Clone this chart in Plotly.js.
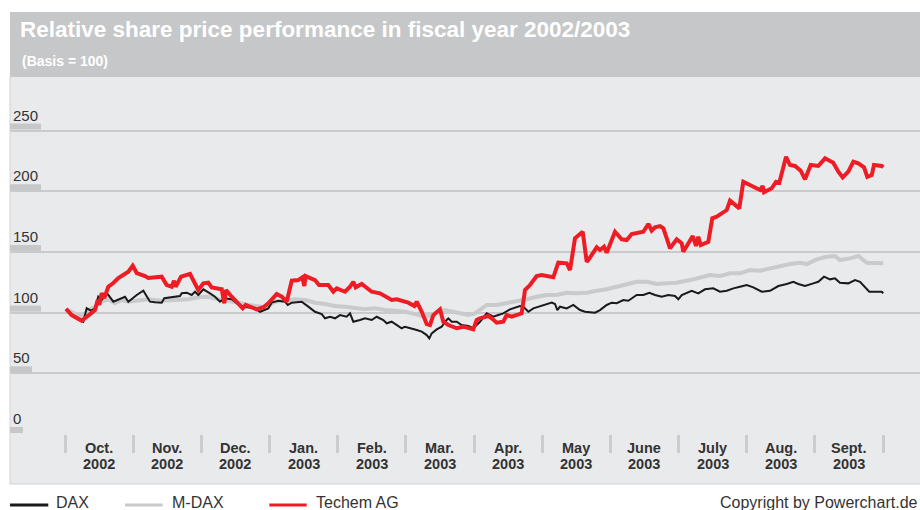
<!DOCTYPE html>
<html>
<head>
<meta charset="utf-8">
<script src="https://cdn.plot.ly/plotly-3.0.1.min.js"></script>
<style>
  html, body { margin: 0; padding: 0; background: #ffffff; }
  #chart { width: 920px; height: 510px; }
</style>
</head>
<body>
<div id="chart"></div>
<script>
// ---- Data (x in months since 1 Oct 2002, y = index, basis 100) ----
const monthLabels = ['Oct.', 'Nov.', 'Dec.', 'Jan.', 'Feb.', 'Mar.', 'Apr.', 'May', 'June', 'July', 'Aug.', 'Sept.'];
const yearLabels = ['2002', '2002', '2002', '2003', '2003', '2003', '2003', '2003', '2003', '2003', '2003', '2003'];
const yTickValues = [0, 50, 100, 150, 200, 250];
const seriesNames = ['DAX', 'M-DAX', 'Techem AG'];

const mdaxX = [0.015,0.147,0.245,0.342,0.440,0.538,0.635,0.733,0.832,0.929,1.075,1.222,1.418,1.614,1.809,1.955,2.102,2.249,2.395,2.542,2.689,2.836,2.934,3.081,3.227,3.374,3.521,3.667,3.814,3.961,4.107,4.254,4.401,4.547,4.694,4.841,4.988,5.134,5.281,5.379,5.476,5.574,5.672,5.819,5.916,6.014,6.088,6.186,6.332,6.479,6.626,6.772,6.919,7.066,7.213,7.360,7.506,7.653,7.800,7.946,8.093,8.240,8.386,8.533,8.680,8.827,8.973,9.168,9.315,9.461,9.608,9.755,9.902,10.048,10.195,10.342,10.488,10.635,10.782,10.880,11.027,11.173,11.295,11.368,11.515,11.637,11.760,11.882,12.003];
const mdaxY = [102.7,99.4,96.6,102.1,104.9,109.0,111.0,107.7,110.4,109.0,110.4,111.0,109.8,110.4,111.0,112.6,113.1,111.0,109.8,108.2,106.3,104.9,104.4,109.0,110.4,111.0,110.4,108.2,107.1,105.4,104.9,103.5,102.7,103.5,102.1,101.6,100.7,98.8,96.6,98.0,100.7,102.1,100.7,99.4,98.0,99.4,102.1,106.3,106.3,107.7,109.8,111.0,113.1,114.5,114.5,116.4,115.9,116.4,118.0,119.2,121.3,123.6,125.4,125.4,123.6,124.1,124.6,126.8,129.1,131.0,130.1,132.4,132.4,135.1,134.5,136.5,138.4,140.0,141.1,140.0,143.9,146.0,146.6,143.3,144.7,146.6,141.1,140.6,140.6];

const daxX = [0.015,0.098,0.172,0.268,0.318,0.381,0.440,0.488,0.538,0.612,0.635,0.709,0.782,0.880,0.929,1.052,1.149,1.247,1.320,1.418,1.457,1.589,1.687,1.712,1.785,1.859,1.907,1.955,2.029,2.127,2.200,2.274,2.347,2.445,2.519,2.616,2.787,2.860,2.934,2.982,3.032,3.129,3.227,3.267,3.326,3.472,3.569,3.667,3.766,3.814,3.887,3.961,4.034,4.132,4.181,4.229,4.327,4.401,4.499,4.572,4.669,4.719,4.792,4.866,4.939,4.988,5.086,5.159,5.233,5.306,5.344,5.379,5.453,5.526,5.574,5.623,5.672,5.746,5.819,5.916,5.989,6.088,6.186,6.283,6.356,6.429,6.527,6.674,6.723,6.796,6.870,6.943,7.041,7.140,7.188,7.222,7.261,7.360,7.456,7.555,7.628,7.775,7.848,7.946,8.020,8.093,8.190,8.263,8.386,8.483,8.571,8.655,8.753,8.850,8.948,8.997,9.047,9.120,9.193,9.290,9.388,9.510,9.608,9.707,9.804,9.902,10.000,10.097,10.220,10.342,10.464,10.587,10.684,10.757,10.855,10.977,11.050,11.134,11.222,11.295,11.368,11.490,11.589,11.662,11.735,11.798,11.907,11.980,12.003];
const daxY = [102.7,98.8,95.3,92.5,103.5,101.6,103.5,113.1,110.4,115.9,114.5,109.0,111.0,113.1,109.0,114.5,118.0,109.0,108.5,108.2,111.8,113.1,113.7,115.9,116.4,114.5,117.2,114.5,119.2,115.9,113.1,109.0,111.8,111.0,107.7,104.9,103.5,100.7,102.1,103.5,108.2,109.8,109.0,106.3,108.2,109.0,104.9,100.7,98.8,95.3,96.6,95.3,98.0,96.6,99.4,92.5,93.9,95.3,93.9,96.6,93.9,91.2,92.5,89.8,87.1,88.4,87.1,85.7,84.3,81.5,78.8,82.9,86.2,88.4,92.5,95.3,92.5,92.5,89.8,89.0,87.1,92.5,99.4,96.6,98.0,99.4,102.7,105.4,104.9,100.7,103.5,104.9,106.3,108.2,107.1,102.1,104.9,103.5,106.3,102.1,100.7,99.9,102.1,106.3,108.2,107.7,110.4,109.8,114.5,114.5,116.4,114.5,113.1,114.5,113.7,111.0,114.5,116.4,118.0,115.9,119.2,120.0,117.2,118.0,120.0,121.3,122.7,120.8,117.2,118.0,121.9,123.6,125.4,123.6,121.9,124.1,125.4,129.6,127.4,128.2,124.6,124.1,126.8,125.4,121.3,117.2,117.2,117.2,115.9];

const techemX = [0.015,0.098,0.245,0.342,0.440,0.480,0.503,0.538,0.576,0.635,0.709,0.782,0.855,0.929,0.993,1.052,1.174,1.222,1.418,1.492,1.565,1.599,1.624,1.702,1.834,1.897,1.955,2.029,2.102,2.152,2.299,2.337,2.362,2.445,2.519,2.607,2.651,2.812,2.909,2.982,3.105,3.179,3.252,3.326,3.422,3.481,3.510,3.531,3.667,3.726,3.862,3.936,3.986,4.107,4.181,4.229,4.264,4.352,4.499,4.621,4.792,4.866,5.036,5.124,5.159,5.233,5.306,5.354,5.403,5.501,5.549,5.623,5.746,5.843,5.989,6.039,6.088,6.209,6.259,6.332,6.429,6.479,6.553,6.699,6.748,6.821,6.919,6.993,7.163,7.236,7.360,7.408,7.481,7.594,7.653,7.677,7.800,7.848,7.907,7.946,8.068,8.117,8.166,8.240,8.313,8.483,8.557,8.606,8.655,8.728,8.777,8.827,8.875,8.973,9.047,9.070,9.143,9.208,9.256,9.290,9.325,9.437,9.495,9.560,9.707,9.755,9.891,9.950,10.195,10.234,10.254,10.367,10.430,10.478,10.577,10.635,10.709,10.792,10.855,10.939,11.050,11.149,11.270,11.344,11.408,11.490,11.564,11.637,11.721,11.769,11.834,11.867,11.980,12.003];
const techemY = [103.0,98.0,93.3,98.0,102.1,110.4,106.3,116.1,112.0,121.3,124.4,128.5,131.0,133.7,138.6,132.6,130.1,128.5,129.6,122.7,121.3,126.3,121.3,129.6,131.8,125.4,118.6,124.1,124.6,120.8,119.2,107.7,118.6,113.1,109.0,103.5,106.3,102.7,104.4,107.7,115.3,113.1,109.0,126.3,126.8,129.1,121.9,130.1,126.8,122.7,122.7,117.2,120.0,117.2,121.3,125.4,120.8,123.6,117.2,115.9,110.4,110.9,108.2,105.4,109.0,100.7,90.6,89.8,98.0,102.7,92.5,89.8,87.1,88.4,86.2,93.9,95.3,97.2,95.3,91.7,92.5,98.0,96.6,99.4,118.6,122.7,130.1,131.0,129.1,141.1,140.6,135.1,161.2,166.6,141.9,143.3,153.8,151.6,154.3,149.3,166.6,163.9,160.4,159.8,164.7,166.6,173.0,167.5,170.3,171.3,169.4,161.2,153.0,160.4,157.1,150.2,157.1,163.1,154.9,162.5,155.7,158.4,177.7,179.0,184.5,192.2,185.9,207.8,201.0,204.3,199.1,202.4,207.8,207.0,228.4,221.6,220.8,216.9,209.8,221.6,220.8,227.1,223.5,216.1,211.4,216.1,224.3,223.0,219.7,211.9,213.3,221.6,220.8,219.7];

// ---- Styling ----
const FONT = 'Liberation Sans, Arial, Helvetica, sans-serif';
const TEXT = '#333333';
const BG = '#e9eaec';
const HEADER = '#c6c7c9';
const GRID = '#c9cacc';
const colors = { 'DAX': '#1a1a1a', 'M-DAX': '#c9cacc', 'Techem AG': '#ee1d25' };
const widths = { 'DAX': 2, 'M-DAX': 4, 'Techem AG': 4 };

const W = 920, H = 510;
const M = { l: 10, r: 0, t: 77, b: 76 };
const plotH = H - M.t - M.b;   // 357
const plotW = W - M.l - M.r;   // 910
const pyToPaper = py => (H - M.b - py) / plotH;
const pxToPaper = px => (px - M.l) / plotW;

const traceData = {
  'M-DAX': [mdaxX, mdaxY],
  'DAX': [daxX, daxY],
  'Techem AG': [techemX, techemY]
};
const drawOrder = ['M-DAX', 'DAX', 'Techem AG'];
const traces = drawOrder.map(name => ({
  type: 'scatter', mode: 'lines', name: name,
  x: traceData[name][0], y: traceData[name][1],
  line: { color: colors[name], width: widths[name], shape: 'linear' },
  hoverinfo: 'skip'
}));

const shapes = [];
const annotations = [];

// Header band
shapes.push({ type: 'rect', xref: 'paper', yref: 'paper', x0: 0, x1: 1,
  y0: pyToPaper(77), y1: pyToPaper(12), fillcolor: HEADER, line: { width: 0 }, layer: 'below' });
// Background band under the plot (x-axis area)
shapes.push({ type: 'rect', xref: 'paper', yref: 'paper', x0: 0, x1: 1,
  y0: pyToPaper(484), y1: 0, fillcolor: BG, line: { width: 0 }, layer: 'below' });
// Left & bottom borders of grey panel
shapes.push({ type: 'line', xref: 'paper', yref: 'paper', x0: 0, x1: 0,
  y0: pyToPaper(484), y1: 1, line: { color: '#d3d4d6', width: 1 }, layer: 'above' });
shapes.push({ type: 'line', xref: 'paper', yref: 'paper', x0: 0, x1: 1,
  y0: pyToPaper(484), y1: pyToPaper(484), line: { color: '#d3d4d6', width: 1 }, layer: 'below' });

// Y tick labels with grey bars beneath
yTickValues.forEach(v => {
  const txt = String(v);
  annotations.push({ xref: 'paper', yref: 'y', x: 0, y: v, xanchor: 'left', yanchor: 'bottom',
    xshift: 1, yshift: 5, showarrow: false, text: txt,
    font: { family: FONT, size: 15, color: TEXT } });
  shapes.push({ type: 'rect', xref: 'paper', yref: 'y', xsizemode: 'pixel', ysizemode: 'pixel',
    xanchor: 0, yanchor: v, x0: 0, x1: 4 + txt.length * 9, y0: 1, y1: 7,
    fillcolor: '#c6c7c9', line: { width: 0 }, layer: 'above' });
});

// Month / year labels
monthLabels.forEach((m, i) => {
  annotations.push({ xref: 'x', yref: 'paper', x: i + 0.5, y: 0, yanchor: 'top', yshift: -4,
    showarrow: false, text: '<b>' + m + '</b>', font: { family: FONT, size: 14.5, color: TEXT } });
  annotations.push({ xref: 'x', yref: 'paper', x: i + 0.5, y: 0, yanchor: 'top', yshift: -20,
    showarrow: false, text: '<b>' + yearLabels[i] + '</b>', font: { family: FONT, size: 14.5, color: TEXT } });
});

// Subtitle
annotations.push({ xref: 'paper', yref: 'paper', x: pxToPaper(20), y: pyToPaper(61), xanchor: 'left', yanchor: 'middle',
  showarrow: false, text: '<b>(Basis = 100)</b>', font: { family: FONT, size: 14, color: '#ffffff' } });

// Manual legend
const legendPos = [[10, 48.3, 56], [125, 162.7, 171.7], [269.3, 306.7, 316]];
seriesNames.forEach((name, i) => {
  const p = legendPos[i];
  shapes.push({ type: 'line', xref: 'paper', yref: 'paper', x0: pxToPaper(p[0]), x1: pxToPaper(p[1]),
    y0: pyToPaper(505), y1: pyToPaper(505), line: { color: colors[name], width: 3 } });
  annotations.push({ xref: 'paper', yref: 'paper', x: pxToPaper(p[2]), y: pyToPaper(502.5), xanchor: 'left', yanchor: 'middle',
    xshift: -2, showarrow: false, text: name, font: { family: FONT, size: 16, color: TEXT } });
});
annotations.push({ xref: 'paper', yref: 'paper', x: 1, y: pyToPaper(502.5), xanchor: 'right', yanchor: 'middle',
  showarrow: false, text: 'Copyright by Powerchart.de', font: { family: FONT, size: 16, color: TEXT } });

const monthTicks = Array.from({ length: monthLabels.length + 1 }, (_, i) => i);

const layout = {
  width: W, height: H,
  margin: M,
  paper_bgcolor: '#ffffff',
  plot_bgcolor: BG,
  showlegend: false,
  font: { family: FONT, color: TEXT },
  title: {
    text: '<b>Relative share price performance in fiscal year 2002/2003</b>',
    font: { family: FONT, size: 22.5, color: '#ffffff' },
    xref: 'container', yref: 'container',
    x: 20 / W, xanchor: 'left',
    y: 1 - 29 / H, yanchor: 'middle'
  },
  xaxis: {
    range: [-0.807, 12.542],
    tickmode: 'array', tickvals: monthTicks,
    showticklabels: false,
    ticks: 'outside', ticklen: 18, tickwidth: 3, tickcolor: '#cbcccf',
    showgrid: false, zeroline: false, showline: false, fixedrange: true
  },
  yaxis: {
    range: [0, 294.1],
    tickmode: 'array', tickvals: yTickValues,
    showticklabels: false, ticks: '',
    showgrid: true, gridcolor: GRID, gridwidth: 2,
    zeroline: false, showline: false, fixedrange: true
  },
  shapes: shapes,
  annotations: annotations
};

Plotly.newPlot('chart', traces, layout, { displayModeBar: false, staticPlot: true });
</script>
</body>
</html>
